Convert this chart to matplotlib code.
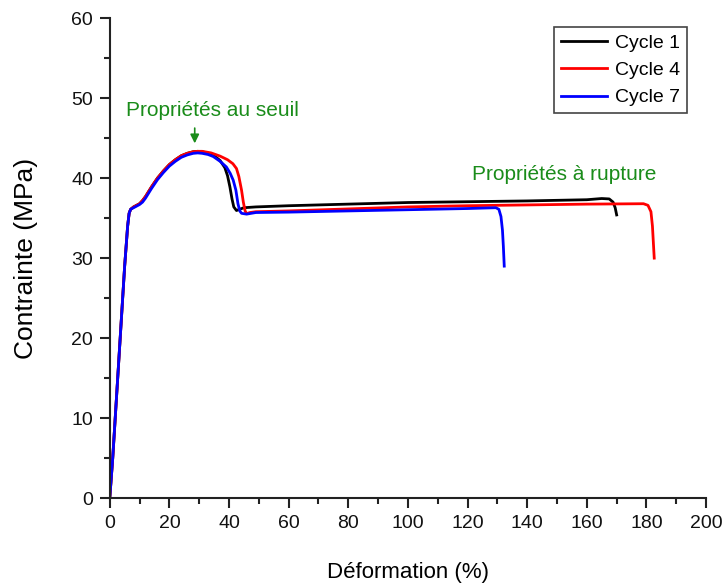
import matplotlib
matplotlib.use("Agg")
import matplotlib.pyplot as plt
from matplotlib.ticker import MultipleLocator

plt.rcParams['font.family'] = ['Liberation Sans', 'DejaVu Sans']

# strain (%) / stress (MPa)
rise_x = [0, 1, 2, 3, 4, 5, 6, 6.5, 7, 8, 9, 10, 11, 12, 13, 14, 16, 18, 20, 22, 24, 26, 28, 29.5]
rise_y = [0, 5, 11, 17, 23, 29, 34, 35.6, 36.1, 36.4, 36.6, 36.8, 37.2, 37.7, 38.3, 38.9, 40.0, 40.9, 41.7, 42.3, 42.8, 43.1, 43.3, 43.35]

c1_x = rise_x + [31, 33, 35, 37, 38.6, 39.5, 40.3, 41, 41.6, 42.5, 43.5, 45, 49, 60, 80, 100, 120, 140, 160, 165, 167.5, 168.8, 169.5, 170]
c1_y = rise_y + [43.3, 43.1, 42.8, 42.2, 41.3, 40.3, 38.9, 37.4, 36.4, 35.95, 36.1, 36.3, 36.4, 36.55, 36.75, 36.95, 37.05, 37.15, 37.3, 37.45, 37.4, 37.0, 36.3, 35.4]

c4_x = rise_x + [31, 34, 37, 39.5, 41.3, 42.5, 43.3, 44.2, 44.8, 45.4, 45.9, 47, 49, 60, 80, 100, 120, 140, 160, 179, 180.5, 181.5, 182, 182.3, 182.6]
c4_y = rise_y + [43.35, 43.15, 42.75, 42.3, 41.8, 41.2, 40.2, 38.5, 37.0, 35.9, 35.55, 35.7, 35.8, 35.9, 36.15, 36.4, 36.55, 36.65, 36.75, 36.8, 36.6, 35.8, 34.0, 32.0, 30.0]

c7_rise_y = [0, 5, 11, 17, 23, 29, 34, 35.6, 36.1, 36.3, 36.5, 36.7, 37.0, 37.5, 38.1, 38.7, 39.8, 40.7, 41.5, 42.1, 42.6, 42.9, 43.1, 43.15]
c7_x = rise_x + [31, 33, 34.7, 37, 39.1, 40.4, 41.4, 42.3, 43, 43.6, 44.2, 45.9, 49, 60, 80, 100, 120, 129.5, 130.5, 131.2, 131.7, 132, 132.3]
c7_y = c7_rise_y + [43.1, 42.95, 42.7, 42.1, 41.4, 40.6, 39.75, 38.5, 36.8, 35.9, 35.6, 35.5, 35.7, 35.75, 35.9, 36.05, 36.2, 36.3, 36.1, 35.2, 33.5, 31.5, 29.0]

labels = ['Cycle 1', 'Cycle 4', 'Cycle 7']
colors = ['black', 'red', 'blue']

fig = plt.figure(figsize=(7.22, 5.84), dpi=100)
ax = fig.add_axes([0.152, 0.147, 0.826, 0.822])

for xs, ys, lab, col in zip([c1_x, c4_x, c7_x], [c1_y, c4_y, c7_y], labels, colors):
    ax.plot(xs, ys, color=col, lw=2.0, label=lab, solid_joinstyle='round')

ax.set_xlim(0, 200)
ax.set_ylim(0, 60)
ax.xaxis.set_major_locator(MultipleLocator(20))
ax.xaxis.set_minor_locator(MultipleLocator(10))
ax.yaxis.set_major_locator(MultipleLocator(10))
ax.yaxis.set_minor_locator(MultipleLocator(5))
ax.spines['top'].set_visible(False)
ax.spines['right'].set_visible(False)
for s in ['left', 'bottom']:
    ax.spines[s].set_linewidth(1.5)
    ax.spines[s].set_color('#222222')
ax.tick_params(which='major', direction='out', length=7, width=1.5, labelsize=14, colors='#222222', pad=5)
ax.tick_params(which='minor', direction='out', length=4, width=1.5, colors='#222222')
ax.tick_params(labelcolor='#111111')

ax.set_xlabel('Déformation (%)', fontsize=16, labelpad=22)
ax.set_ylabel('Contrainte (MPa)', fontsize=19, labelpad=24)

leg = ax.legend(loc='upper right', bbox_to_anchor=(0.968, 0.981), borderaxespad=0, fontsize=14,
                frameon=True, fancybox=False, handlelength=2.4, borderpad=0.35, labelspacing=0.5,
                handletextpad=0.4)
leg.get_frame().set_edgecolor('#444444')
leg.get_frame().set_linewidth(1.2)
leg.get_frame().set_alpha(1)

green = '#1a8c1a'
ax.text(34.6, 48.5, 'Propriétés au seuil', color=green, fontsize=15, ha='center', va='center')
ax.annotate('', xy=(28.5, 44.0), xytext=(28.5, 46.6),
            arrowprops=dict(arrowstyle='-|>', color=green, lw=1.2, mutation_scale=13))
ax.text(152.5, 40.4, 'Propriétés à rupture', color=green, fontsize=15, ha='center', va='center')

fig.savefig('out.png', dpi=100)
